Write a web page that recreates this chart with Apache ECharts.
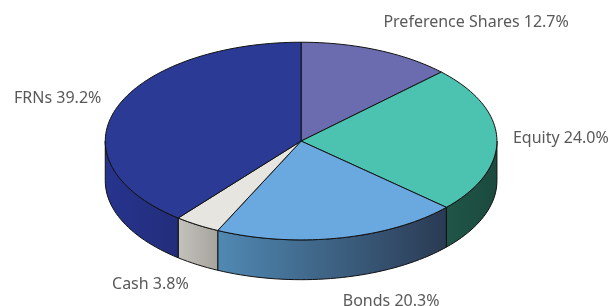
<!DOCTYPE html>
<html>
<head>
<meta charset="utf-8">
<script src="https://cdn.jsdelivr.net/npm/echarts@6/dist/echarts.min.js"></script>
<style>
  html, body { margin: 0; padding: 0; background: #fff; }
  #chart { width: 612px; height: 306px; }
</style>
</head>
<body>
<div id="chart"></div>
<script>
// slices clockwise from 12 o'clock
const categories = ['Preference Shares', 'Equity', 'Bonds', 'Cash', 'FRNs'];
const values = [12.7, 24.0, 20.3, 3.8, 39.2];

const topColors = ['#6b6bb0', '#4cc3b0', '#6aa9e0', '#e7e5df', '#2b3a94'];
const sideColors = [
    ['#4a4a8a', '#4a4a8a'],
    ['#1f5547', '#1b4a3e'],
    ['#5089b3', '#2a3a53'],
    ['#c4c2bc', '#a5a39c'],
    ['#27348e', '#222d7b']
];

// cumulative start / end as fractions of the total
const total = values.reduce((a, b) => a + b, 0);
let acc = 0;
const data = values.map(v => {
    const a0 = acc / total;
    acc += v;
    return [a0, acc / total, v];
});

const chart = echarts.init(document.getElementById('chart'));

function renderItem(params, api) {
    const i = params.dataIndex;
    const a0 = api.value(0), a1 = api.value(1), v = api.value(2);
    const W = api.getWidth(), H = api.getHeight();
    const cx = W * 0.492, cy = H * 0.461;
    const rx = W * 0.32, ry = H * 0.323, depth = H * 0.13;

    const pt = (t, dy) => {
        const th = t * Math.PI * 2;
        return [cx + rx * Math.sin(th), cy - ry * Math.cos(th) + (dy || 0)];
    };
    const arc = (s, e, dy) => {
        const n = Math.max(2, Math.ceil((e - s) * 200));
        const out = [];
        for (let k = 0; k <= n; k++) out.push(pt(s + (e - s) * k / n, dy));
        return out;
    };

    const children = [];

    // visible side wall (front half of the ellipse)
    const s0 = Math.max(a0, 0.25), s1 = Math.min(a1, 0.75);
    if (s1 > s0) {
        const pts = arc(s0, s1, 0).concat(arc(s0, s1, depth).reverse());
        children.push({
            type: 'polygon',
            shape: { points: pts },
            style: {
                fill: new echarts.graphic.LinearGradient(0, 0, 1, 0, [
                    { offset: 0, color: sideColors[i][0] },
                    { offset: 1, color: sideColors[i][1] }
                ]),
                stroke: '#111',
                lineWidth: 1,
                lineJoin: 'round'
            }
        });
    }

    // top face
    children.push({
        type: 'polygon',
        shape: { points: [[cx, cy]].concat(arc(a0, a1, 0)) },
        style: { fill: topColors[i], stroke: '#111', lineWidth: 1, lineJoin: 'round' }
    });

    // label
    const mid = (a0 + a1) / 2 * Math.PI * 2;
    const sn = Math.sin(mid), cs = Math.cos(mid);
    const lx = cx + (rx + 16) * sn;
    const ly = cy - (ry + 30) * cs + (cs < 0 ? depth * 0.85 : 0);
    children.push({
        type: 'text',
        style: {
            text: categories[i] + ' ' + v.toFixed(1) + '%',
            x: lx,
            y: ly,
            align: sn >= 0 ? 'left' : 'right',
            verticalAlign: 'middle',
            fill: '#595959',
            font: '16px "Noto Sans"'
        }
    });

    return { type: 'group', children: children };
}

chart.setOption({
    animation: false,
    series: [{
        type: 'custom',
        coordinateSystem: 'none',
        renderItem: renderItem,
        data: data
    }]
});
</script>
</body>
</html>
